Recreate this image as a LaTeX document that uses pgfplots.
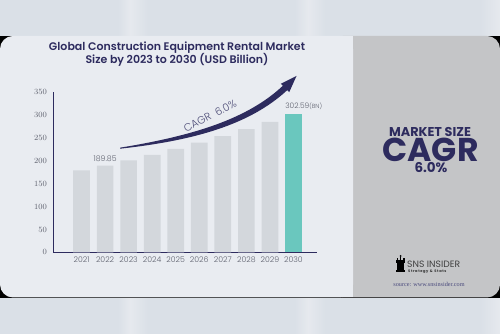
\documentclass[border=0pt]{standalone}
\usepackage{pgfplots}
\pgfplotsset{compat=1.18}
\usepackage{fontspec}
\setmainfont{Poppins}
\newfontfamily\lightf{Poppins Light}
\newfontfamily\semif{Poppins SemiBold}
\newfontfamily\serf{Liberation Serif}
\definecolor{band}{HTML}{DAE0E7}
\definecolor{bandl}{HTML}{E6E9EE}
\definecolor{leftc}{HTML}{E9ECF1}
\definecolor{rightc}{HTML}{C4C5C7}
\definecolor{navy}{HTML}{2D2B5E}
\definecolor{barg}{HTML}{D3D7DC}
\definecolor{tealc}{HTML}{6AC7BE}
\definecolor{tickc}{HTML}{5E616E}
\definecolor{srcc}{HTML}{4B4B7D}
\begin{document}
\begin{tikzpicture}[x=1pt,y=1pt]
\fill[band] (0,0) rectangle (500,334);
\shade[left color=band, right color=bandl] (118,0) rectangle (130,334);
\shade[left color=bandl, right color=band] (130,0) rectangle (148,334);
\shade[left color=band, right color=bandl] (295,0) rectangle (308,334);
\shade[left color=bandl, right color=band] (308,0) rectangle (325,334);
\shade[left color=band, right color=bandl] (480,0) rectangle (500,334);
\fill[black] (0,36) rectangle (500,298);
\fill[rightc, rounded corners=13pt] (330,36.5) rectangle (500,298);
\fill[leftc, rounded corners=13pt] (0,36.5) rectangle (353,298);
\fill[leftc] (320,36.5) rectangle (353,298);
% title
\node[text=navy, font=\semif\fontsize{11}{13.4}\selectfont, align=center] at (177,280)
  {Global Construction Equipment Rental Market\\Size by 2023 to 2030 (USD Billion)};
\begin{axis}[at={(53.3pt,81.7pt)}, anchor=south west, scale only axis,
  width=263.7pt, height=160pt, xmin=-1.2, xmax=10, ymin=0, ymax=350,
  axis x line*=bottom, axis y line*=left,
  axis line style={-, draw=navy, line width=0.8pt},
  ytick={0,50,...,350}, xtick={0,...,9},
  xticklabels={2021,2022,2023,2024,2025,2026,2027,2028,2029,2030},
  major tick length=0pt,
  tick label style={font=\lightf\fontsize{7.8}{9}\selectfont, text=tickc},
  yticklabel style={xshift=-3pt},
  xticklabel style={yshift=-0.5pt},
  clip=false]
\addplot[ybar, bar shift=0pt, bar width=16.7pt, fill=barg, draw=none]
  coordinates {(0,179.1) (1,189.85) (2,201.2) (3,213.3) (4,226.1) (5,239.7) (6,254.1) (7,269.3) (8,285.5)};
\addplot[ybar, bar shift=0pt, bar width=16.7pt, fill=tealc, draw=none]
  coordinates {(9,302.59)};
\node[anchor=south, inner sep=0pt, yshift=4pt, text=tickc, font=\lightf\fontsize{7.8}{9}\selectfont] at (axis cs:1,189.85) {189.85};
\node[anchor=south west, inner sep=0pt, yshift=4.5pt, xshift=-8.3pt, text=tickc, font=\lightf\fontsize{7.5}{9}\selectfont] at (axis cs:9,302.59) {302.59\fontsize{6}{7}\selectfont(BN)};
\end{axis}
% CAGR swoosh
\fill[navy] (120,185.3) .. controls (195,193.5) and (250,209.5) .. (287.2,243.8) -- (289.2,241.8) -- (296.5,258) -- (280.8,250.2) -- (282.8,248.2) .. controls (248,215.5) and (195,198.5) .. (120,186.3) -- cycle;
\node[rotate=27, inner sep=0pt, text=navy!85, font=\lightf\fontsize{10.5}{12}\selectfont] at (210,218.3) {CAGR\ \ 6.0\%};
% right panel
\node[inner sep=0pt, text=navy, font=\bfseries\fontsize{12.8}{14}\selectfont] at (430,202.3) {MARKET SIZE};
\node[inner sep=0pt, text=navy, font=\bfseries\fontsize{33}{34}\selectfont] at (430.5,184.5) {CAGR};
\node[inner sep=0pt, text=navy, font=\bfseries\fontsize{13.5}{14}\selectfont] at (431,166) {6.0\%};
% logo
\fill[black] (396,62) rectangle (405,64);
\fill[black] (397,64) rectangle (404,71);
\fill[black] (396,71) rectangle (405,74);
\fill[black] (396.5,74) rectangle (398,76);
\fill[black] (399.8,74) rectangle (401.2,77);
\fill[black] (403,74) rectangle (404.5,76);
\fill[black] (400.5,78) circle (1pt);
\node[anchor=west, inner sep=0pt, text=black!75, font=\fontsize{9.2}{10}\selectfont] at (407,69.5) {SNS INSIDER};
\node[anchor=west, inner sep=0pt, text=black!80, font=\bfseries\fontsize{3.6}{4}\selectfont] at (408,62) {S\,t\,r\,a\,t\,e\,g\,y\ \ \&\ \ S\,t\,a\,t\,s};
\node[text=srcc, font=\serf\fontsize{6.2}{7}\selectfont] at (429,50) {source: www.snsinsider.com};
\end{tikzpicture}
\end{document}
